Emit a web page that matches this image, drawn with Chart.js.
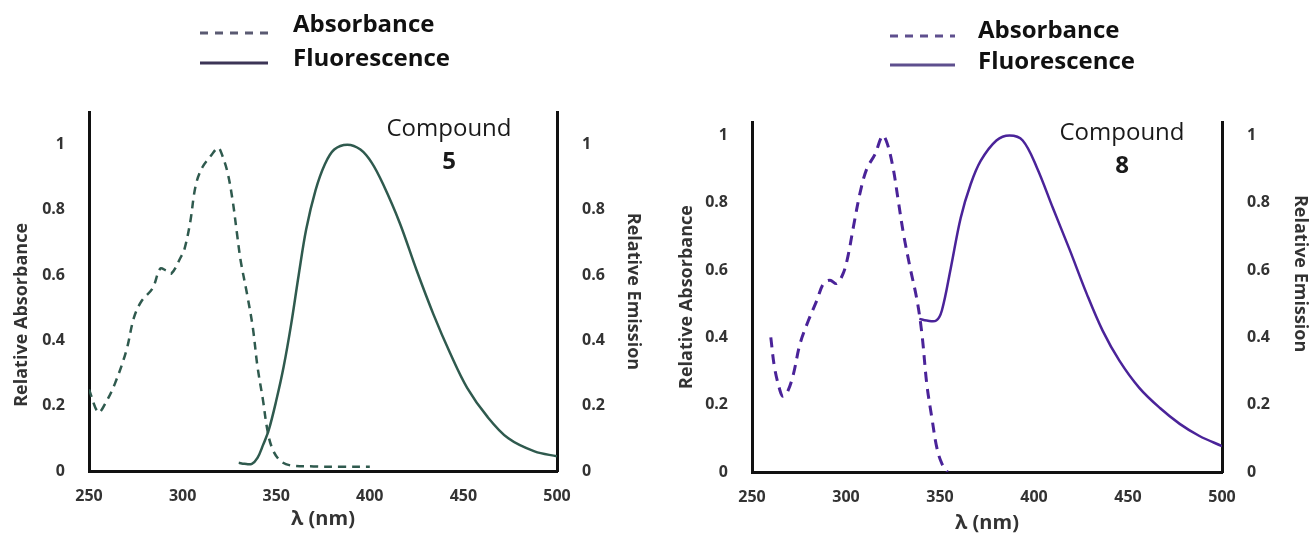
<!DOCTYPE html>
<html>
<head>
<meta charset="utf-8">
<script src="https://cdn.jsdelivr.net/npm/chart.js@4.4.1/dist/chart.umd.min.js"></script>
<style>
  html, body { margin: 0; padding: 0; background: #fff; overflow: hidden; width: 1309px; height: 535px; }
  #chart5 { position: absolute; left: 0; top: 0; }
  #chart8 { position: absolute; left: 654px; top: 0; }
</style>
</head>
<body>
<canvas id="chart5" width="654" height="535"></canvas>
<canvas id="chart8" width="680" height="535"></canvas>
<script>
// axis ticks and labels
const xTicks = [250, 300, 350, 400, 450, 500];
const yTicks = [0, 0.2, 0.4, 0.6, 0.8, 1];
const seriesNames = ['Absorbance', 'Fluorescence'];
const compoundNames = ['5', '8'];

// compound 5
const abs5Nm  = [250, 255, 259, 264, 270, 274, 278, 284, 288, 291, 294, 299, 301, 304, 307, 310.5, 315, 319, 321, 324, 326.7, 329, 331, 334.5, 337.5, 340, 343, 345, 347.5, 351.5, 357, 370, 385, 400];
const abs5Val = [0.25, 0.18, 0.21, 0.27, 0.37, 0.47, 0.52, 0.56, 0.62, 0.615, 0.605, 0.655, 0.68, 0.76, 0.875, 0.93, 0.965, 0.99, 0.97, 0.915, 0.83, 0.73, 0.645, 0.54, 0.44, 0.32, 0.215, 0.135, 0.075, 0.035, 0.018, 0.014, 0.013, 0.013];
const flu5Nm  = [330, 333, 337, 340, 343, 346, 350, 354, 358, 362, 366, 371, 376, 381, 388, 395, 401, 407, 416, 425, 434, 443, 452, 463, 474, 488, 500];
const flu5Val = [0.025, 0.022, 0.022, 0.04, 0.08, 0.125, 0.215, 0.32, 0.45, 0.6, 0.74, 0.86, 0.94, 0.985, 1.0, 0.985, 0.945, 0.88, 0.76, 0.615, 0.48, 0.36, 0.255, 0.165, 0.1, 0.06, 0.045];

// compound 8
const abs8Nm  = [260, 262, 265, 266.5, 269, 272, 275.5, 280, 284.5, 288, 291.5, 295, 298.5, 301, 304, 307.5, 311, 315.5, 319.5, 322, 325, 327.7, 330.5, 334, 337.8, 340.4, 343, 345.7, 348.4, 351, 354];
const abs8Val = [0.4, 0.31, 0.24, 0.225, 0.24, 0.29, 0.38, 0.45, 0.51, 0.56, 0.57, 0.56, 0.59, 0.64, 0.73, 0.83, 0.9, 0.945, 1.0, 0.975, 0.905, 0.81, 0.71, 0.61, 0.51, 0.41, 0.26, 0.16, 0.07, 0.025, 0];
const flu8Nm  = [339, 343, 348, 351, 355.7, 361, 366.3, 371.7, 380, 387, 394, 401.5, 410, 419, 428, 436.5, 445.5, 456, 467, 477.5, 488, 500];
const flu8Val = [0.455, 0.45, 0.45, 0.48, 0.605, 0.755, 0.855, 0.925, 0.985, 1.0, 0.985, 0.905, 0.785, 0.66, 0.53, 0.42, 0.33, 0.25, 0.19, 0.143, 0.107, 0.077];

Chart.defaults.font.family = '"Open Sans", sans-serif';

const toPoints = (xs, ys) => xs.map((x, i) => ({ x: x, y: ys[i] }));

// legend block + "Compound N" tag, drawn on top of each panel
const panelDecor = {
    id: 'panelDecor',
    afterDraw(chart, args, o) {
        const { ctx } = chart;
        ctx.save();
        seriesNames.forEach((name, i) => {
            ctx.strokeStyle = o.legendColors[i];
            ctx.lineWidth = 3;
            ctx.setLineDash(i === 0 ? [8, 7] : []);
            ctx.beginPath();
            ctx.moveTo(o.lineX[0], o.lineY[i]);
            ctx.lineTo(o.lineX[1], o.lineY[i]);
            ctx.stroke();
            ctx.setLineDash([]);
            ctx.font = 'bold 24px "Open Sans"';
            ctx.fillStyle = '#111';
            ctx.textAlign = 'left';
            ctx.textBaseline = 'middle';
            ctx.fillText(name, o.textX, o.textY[i]);
        });
        ctx.textAlign = 'center';
        ctx.fillStyle = '#1a1a1a';
        ctx.font = '24px "Open Sans"';
        ctx.fillText('Compound', o.tagX, o.tagY[0]);
        ctx.font = 'bold 24px "Open Sans"';
        ctx.fillText(o.tagNumber, o.tagX, o.tagY[1]);
        ctx.restore();
    }
};

// trailing blanks nudge a rotated, centred title along its axis
const pad = (text, n) => text + ' '.repeat(n);

function makePanel(canvasId, p) {
    const ctx = document.getElementById(canvasId).getContext('2d');
    const tickFont = { size: 16, weight: 'bold' };
    const titleFont = { size: 18, weight: 'bold' };
    const border = { display: true, color: '#111', width: 3 };
    const setTicks = (vals) => (scale) => { scale.ticks = vals.map(v => ({ value: v })); };

    return new Chart(ctx, {
        type: 'line',
        data: {
            datasets: [{
                label: seriesNames[0],
                data: toPoints(p.absNm, p.absVal),
                yAxisID: 'y',
                borderColor: p.color,
                borderWidth: p.absWidth,
                borderDash: p.dash,
                pointRadius: 0,
                tension: 0.35,
                fill: false
            }, {
                label: seriesNames[1],
                data: toPoints(p.fluNm, p.fluVal),
                yAxisID: 'y2',
                borderColor: p.color,
                borderWidth: 2.5,
                pointRadius: 0,
                tension: 0.35,
                fill: false
            }]
        },
        options: {
            responsive: false,
            animation: false,
            devicePixelRatio: 1,
            layout: { padding: { top: p.top, left: 0, right: 0, bottom: 0 } },
            scales: {
                x: {
                    type: 'linear', min: 250, max: 500,
                    afterBuildTicks: setTicks(xTicks),
                    afterFit: (s) => { s.height = p.xH; },
                    grid: { display: false },
                    border: border,
                    ticks: { padding: 8, color: '#333', font: tickFont, callback: v => String(v) },
                    title: { display: true, text: 'λ (nm)', color: '#333', font: { size: 20, weight: 'bold' }, padding: { top: 0, bottom: p.xTitlePad } }
                },
                y: {
                    type: 'linear', position: 'left', min: 0, max: p.yMax,
                    afterBuildTicks: setTicks(yTicks),
                    afterFit: (s) => { s.width = p.yLeftW; },
                    grid: { display: false },
                    border: border,
                    ticks: { padding: 16, color: '#333', font: tickFont, callback: v => String(v) },
                    title: { display: true, text: pad('Relative Absorbance', p.leftShift), color: '#333', font: titleFont, padding: { top: p.leftTitlePad, bottom: 0 } }
                },
                y2: {
                    type: 'linear', position: 'right', min: 0, max: p.yMax,
                    afterBuildTicks: setTicks(yTicks),
                    afterFit: (s) => { s.width = p.yRightW; },
                    grid: { display: false },
                    border: border,
                    ticks: { padding: 17, color: '#333', font: tickFont, callback: v => String(v) },
                    title: { display: true, text: pad('Relative Emission', p.rightShift), color: '#333', font: titleFont, padding: { top: p.rightTitlePad, bottom: 0 } }
                }
            },
            plugins: {
                legend: { display: false },
                tooltip: { enabled: false },
                panelDecor: p.decor
            }
        },
        plugins: [panelDecor]
    });
}

makePanel('chart5', {
    absNm: abs5Nm, absVal: abs5Val, fluNm: flu5Nm, fluVal: flu5Val,
    color: '#2f5a4e', absWidth: 2.5, dash: [8, 6],
    top: 112, xH: 64, yLeftW: 89, yRightW: 97, yMax: 1.1,
    leftTitlePad: 11, rightTitlePad: 10, xTitlePad: 4,
    leftShift: 10, rightShift: 0,
    decor: {
        legendColors: ['#5a5a72', '#3c3556'],
        lineX: [200, 268], lineY: [33, 63], textX: 293, textY: [25, 59],
        tagX: 449, tagY: [129, 162], tagNumber: compoundNames[0]
    }
});

makePanel('chart8', {
    absNm: abs8Nm, absVal: abs8Val, fluNm: flu8Nm, fluVal: flu8Val,
    color: '#4a2399', absWidth: 3, dash: [10, 7],
    top: 122, xH: 63, yLeftW: 98, yRightW: 112, yMax: 1.04,
    leftTitlePad: 22, rightTitlePad: 23, xTitlePad: 0,
    leftShift: 0, rightShift: 10,
    decor: {
        legendColors: ['#5e4f8e', '#5e4f8e'],
        lineX: [236, 301], lineY: [36, 65], textX: 324, textY: [31, 62],
        tagX: 468, tagY: [133, 166], tagNumber: compoundNames[1]
    }
});
</script>
</body>
</html>
